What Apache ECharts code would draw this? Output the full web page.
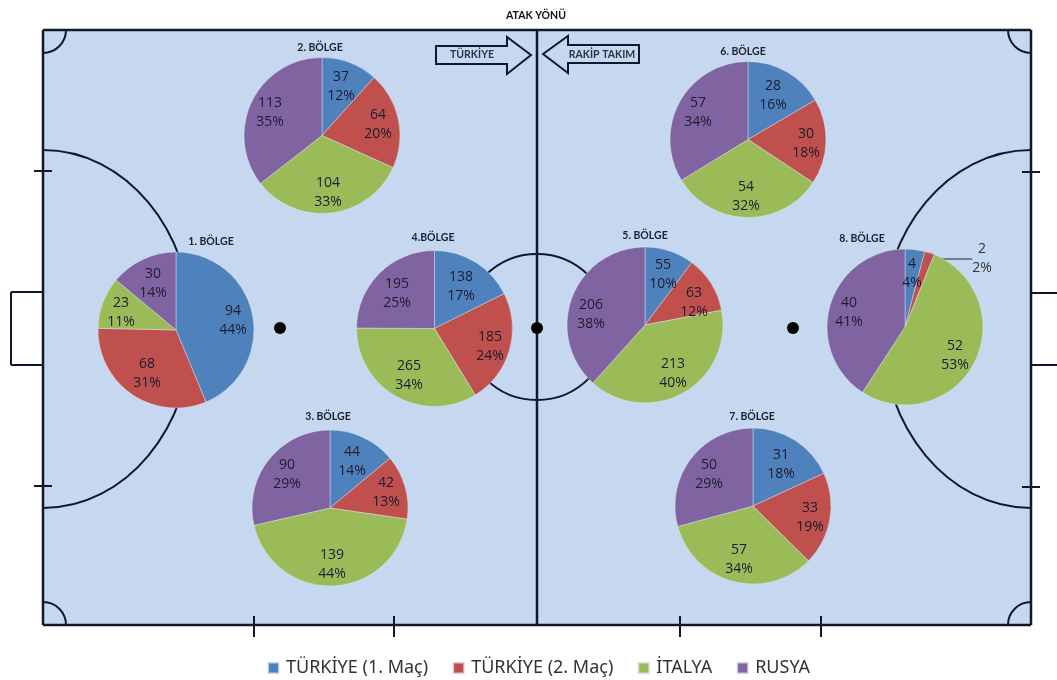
<!DOCTYPE html>
<html><head><meta charset="utf-8">
<style>html,body{margin:0;padding:0;background:#fff}#c{width:1057px;height:680px}</style>
<script src="https://cdn.jsdelivr.net/npm/echarts@6/dist/echarts.min.js"></script>
</head><body><div id="c"></div>
<script>
// ---- data ----
const teams = ['TÜRKİYE (1. Maç)', 'TÜRKİYE (2. Maç)', 'İTALYA', 'RUSYA'];
const zoneNames = ['1. BÖLGE', '2. BÖLGE', '3. BÖLGE', '4.BÖLGE', '5. BÖLGE', '6. BÖLGE', '7. BÖLGE', '8. BÖLGE'];
const zone1 = [94, 68, 23, 30];
const zone2 = [37, 64, 104, 113];
const zone3 = [44, 42, 139, 90];
const zone4 = [138, 185, 265, 195];
const zone5 = [55, 63, 213, 206];
const zone6 = [28, 30, 54, 57];
const zone7 = [31, 33, 57, 50];
const zone8 = [4, 2, 52, 40];
const pct1 = [44, 31, 11, 14];
const pct2 = [12, 20, 33, 35];
const pct3 = [14, 13, 44, 29];
const pct4 = [17, 24, 34, 25];
const pct5 = [10, 12, 40, 38];
const pct6 = [16, 18, 32, 34];
const pct7 = [18, 19, 34, 29];
const pct8 = [4, 2, 53, 41];
const zoneValues = [zone1, zone2, zone3, zone4, zone5, zone6, zone7, zone8];
const zonePcts = [pct1, pct2, pct3, pct4, pct5, pct6, pct7, pct8];

// ---- layout and style ----
const colors = ['#4F81BD', '#C0504D', '#9BBB59', '#8064A2'];
const centers = [[176,330],[322,135.5],[330,508],[434.5,328.5],[645,325],[748,139.5],[753,506],[905,327]];
const titleSpots = [[211,242],[320,48],[328,417],[433,238],[645,236],[743,52],[752,417],[862,239]];
const labelSpots = [
  [[233,321],[147,374],[121,313],[153,284]],
  [[341,87],[378,125],[328,193],[270,113]],
  [[352,462],[386,493],[332,565],[287,475]],
  [[461,287],[490,347],[409,376],[397,294]],
  [[663,275],[694,303],[673,374],[591,315]],
  [[773,96],[806,144],[746,197],[698,113]],
  [[781,465],[810,518],[739,560],[709,475]],
  [[912,274],[982,259],[955,356],[849,313]]
];
const R = 78, INK = '#10182a', LW = 2;
const labelFont = '"Open Sans", sans-serif';
const titleFont = 'bold 10.5px Lato, sans-serif';

const line = (x1,y1,x2,y2,w) => ({type:'line', z:1, silent:true, shape:{x1,y1,x2,y2}, style:{stroke:INK, lineWidth:w||LW}});
const poly = pts => ({type:'polygon', z:1, silent:true, shape:{points:pts}, style:{fill:'transparent', stroke:INK, lineWidth:LW}});
const K = 0.5523;
function halfEllipse(x, cy, a, b) {   // a signed: + opens to the right, - to the left
  const q = (sy) => ({type:'bezierCurve', z:1, silent:true,
    shape:{x1:x, y1:cy+sy*b, x2:x+a, y2:cy, cpx1:x+a*K, cpy1:cy+sy*b, cpx2:x+a, cpy2:cy+sy*b*K},
    style:{stroke:INK, lineWidth:LW, fill:'none'}});
  return [q(-1), q(1)];
}
const arc = (cx,cy,r,s,e) => ({type:'arc', z:1, silent:true, shape:{cx,cy,r,startAngle:s,endAngle:e}, style:{stroke:INK, lineWidth:LW, fill:'none'}});
const txt = (text,x,y,col) => ({type:'text', z:5, silent:true, x, y,
  style:{text, fill:col||'#1a2233', font:titleFont, align:'center', verticalAlign:'middle'}});
const dot = (x,y) => ({type:'circle', z:1, silent:true, shape:{cx:x,cy:y,r:6}, style:{fill:'#000'}});

const L=43, Rt=1031, T=30, B=625, M=537, H=Math.PI/2;
const court = [
  {type:'rect', z:0, silent:true, shape:{x:L,y:T,width:Rt-L,height:B-T}, style:{fill:'#C6D8F0'}},
  line(L,T,Rt,T,2.5), line(L,B,Rt,B,2.5), line(L,T,L,B,2.5), line(Rt,T,Rt,B,2.5), line(M,T,M,B,2.5),
  arc(L,T,23,0,H), arc(Rt,T,23,H,Math.PI), arc(L,B,23,-H,0), arc(Rt,B,23,Math.PI,Math.PI+H),
  ...halfEllipse(L,329,149,179), ...halfEllipse(Rt,329,-149,179),
  {type:'circle', z:1, silent:true, shape:{cx:M,cy:327,r:73}, style:{fill:'none',stroke:INK,lineWidth:LW}},
  dot(280,328), dot(M,328), dot(793,328),
  line(L,292,11,292), line(11,292,11,365), line(11,365,L,365),
  line(Rt,293,1057,293), line(Rt,365,1057,365),
  line(34,171,52,171), line(34,486,52,486), line(1022,172,1040,172), line(1022,487,1040,487),
  line(254,616,254,637), line(394,616,394,637), line(680,616,680,637), line(821,616,821,637),
  poly([[436,46],[507,46],[507,37],[531,55],[507,74],[507,64],[436,64]]),
  poly([[543,54],[568,36],[568,45],[639,45],[639,63],[568,63],[568,73]]),
  txt('ATAK YÖNÜ',536,16,'#111'),
  txt('TÜRKİYE',472,55,'#2a3347'),
  txt('RAKİP TAKIM',602,55,'#2a3347'),
  ...zoneNames.map((n,i)=>txt(n,titleSpots[i][0],titleSpots[i][1]))
];

const series = zoneValues.map((vals, z) => {
  const pcts = zonePcts[z];
  return {
    type:'pie', z:3, radius:R, center:centers[z], startAngle:90, clockwise:true,
    silent:true, animation:false, avoidLabelOverlap:false,
    label:{position:'inside', fontFamily:labelFont, fontSize:14, lineHeight:19, color:'#1c1c30',
      formatter:p=>p.value+'\n'+pcts[p.dataIndex]+'%'},
    labelLine:{show:false},
    itemStyle:{borderColor:'rgba(225,235,245,0.7)', borderWidth:0.6},
    labelLayout:(p)=>{
      const s=labelSpots[z][p.dataIndex];
      return {x:s[0], y:s[1], align:'center', verticalAlign:'middle'};
    },
    data: vals.map((v,i)=>{
      const o={name:teams[i], value:v, itemStyle:{color:colors[i]}};
      if (z===7 && i===1) { o.label={position:'outside', color:'#333'}; o.labelLine={show:true, length:10, length2:30, lineStyle:{color:'#222',width:1}}; }
      return o;
    })
  };
});

const chart = echarts.init(document.getElementById('c'));
chart.setOption({
  animation:false,
  backgroundColor:'#fff',
  color:colors,
  legend:{data:teams, left:262, top:654, icon:'rect', itemWidth:11, itemHeight:11, itemGap:24, selectedMode:false,
    textStyle:{fontFamily:'"Noto Sans", sans-serif', fontSize:18, color:'#333', padding:[0,0,0,2]}},
  graphic:{elements:court},
  series
});
</script></body></html>
